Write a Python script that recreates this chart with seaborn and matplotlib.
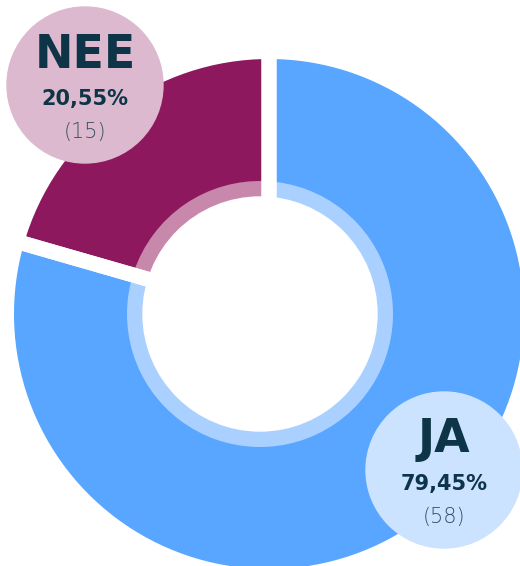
import matplotlib
matplotlib.use('Agg')
import matplotlib.pyplot as plt
from matplotlib.patches import Circle
import seaborn as sns

# data
labels = ["JA", "NEE"]
counts = [58, 15]

# colours
main_colors = ["#58A6FF", "#8D185E"]
ring_colors = ["#AAD0FF", "#C788AC"]
bubble_colors = ["#CCE3FF", "#DCB9CE"]
text_color = "#0D3447"

W, H = 520, 566

sns.set_theme(style="white")
plt.rcParams['font.family'] = ['DejaVu Sans']

fig = plt.figure(figsize=(W / 100, H / 100), dpi=100)
ax = fig.add_axes([0, 0, 1, 1])

# outer donut (pixel coords, y flipped)
outer_c = (269, H - 314)
inner_c = (260, H - 314)

ax.pie(counts, colors=main_colors, center=outer_c, radius=262.5,
       startangle=90, counterclock=False, wedgeprops=dict(linewidth=0))
# lighter inner ring (split nudged so it hides under the white gaps)
ax.pie(counts, colors=ring_colors, center=inner_c, radius=133,
       startangle=87.5, counterclock=False,
       wedgeprops=dict(width=16, linewidth=0))
ax.add_patch(Circle(inner_c, 117, color="white", zorder=3))
# white gaps between slices
wedges, _ = ax.pie(counts, colors=["none", "none"], center=outer_c, radius=262.5,
                   startangle=90, counterclock=False,
                   wedgeprops=dict(edgecolor="white", linewidth=10.8))
for w in wedges:
    w.set_zorder(4)

# label bubbles
total = sum(counts)
bubble_pos = [(444, 470), (85, 85)]
for lab, cnt, col, (bx, by) in zip(labels, counts, bubble_colors, bubble_pos):
    ax.add_patch(Circle((bx, H - by), 78, color=col, zorder=5))
    pct = f"{cnt / total * 100:.2f}".replace(".", ",") + "%"
    ax.text(bx, H - (by - 30), lab, ha="center", va="center", fontsize=33,
            fontweight="bold", color=text_color, zorder=6)
    ax.text(bx, H - (by + 14), pct, ha="center", va="center", fontsize=15,
            fontweight="bold", color=text_color, zorder=6)
    ax.text(bx, H - (by + 47), f"({cnt})", ha="center", va="center", fontsize=15,
            fontweight="light", color="#34505F", zorder=6)

ax.set_xlim(0, W)
ax.set_ylim(0, H)
ax.set_aspect("equal")
ax.axis("off")

fig.savefig("out.png", dpi=100)
plt.close()
